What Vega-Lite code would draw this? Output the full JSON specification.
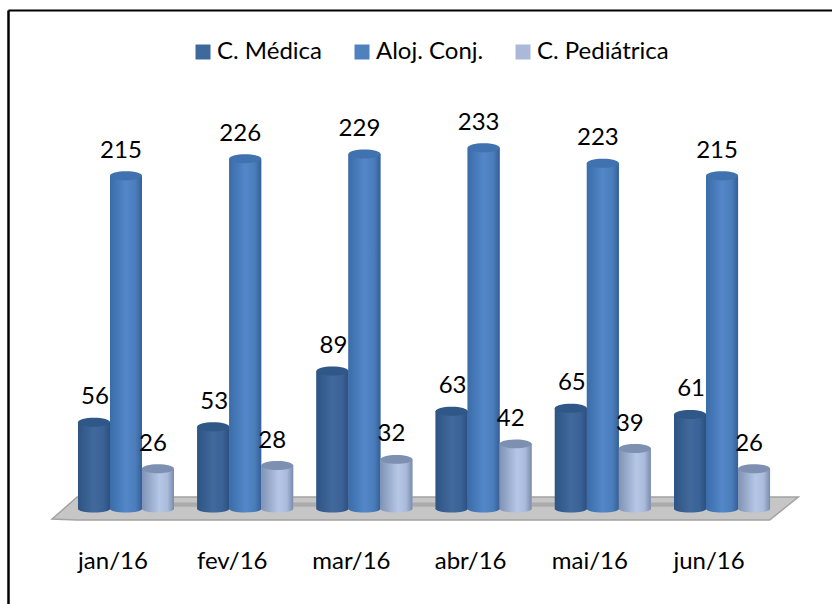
{"$schema":"https://vega.github.io/schema/vega-lite/v6.json","width":824,"height":594,"autosize":{"type":"none"},"padding":{"left":8,"top":10,"right":0,"bottom":0},"background":"white","config":{"view":{"stroke":null},"font":"Lato"},"datasets":{"d":[{"mes":"jan/16","serie":"C. Médica","v":56},{"mes":"jan/16","serie":"Aloj. Conj.","v":215},{"mes":"jan/16","serie":"C. Pediátrica","v":26},{"mes":"fev/16","serie":"C. Médica","v":53},{"mes":"fev/16","serie":"Aloj. Conj.","v":226},{"mes":"fev/16","serie":"C. Pediátrica","v":28},{"mes":"mar/16","serie":"C. Médica","v":89},{"mes":"mar/16","serie":"Aloj. Conj.","v":229},{"mes":"mar/16","serie":"C. Pediátrica","v":32},{"mes":"abr/16","serie":"C. Médica","v":63},{"mes":"abr/16","serie":"Aloj. Conj.","v":233},{"mes":"abr/16","serie":"C. Pediátrica","v":42},{"mes":"mai/16","serie":"C. Médica","v":65},{"mes":"mai/16","serie":"Aloj. Conj.","v":223},{"mes":"mai/16","serie":"C. Pediátrica","v":39},{"mes":"jun/16","serie":"C. Médica","v":61},{"mes":"jun/16","serie":"Aloj. Conj.","v":215},{"mes":"jun/16","serie":"C. Pediátrica","v":26}],"piso":[{"p":-0.12,"a":-6.5,"b":-6.5},{"p":0.09,"a":7.7,"b":-7.1},{"p":5.9,"a":7.7,"b":-7.1},{"p":6.14,"a":7.7,"b":7.7}],"sombra":[{"p":0.15,"a":4.2,"b":1.5},{"p":5.85,"a":4.2,"b":1.5}]},"resolve":{"scale":{"x":"independent"},"axis":{"x":"independent"}},"layer":[{"data":{"name":"piso"},"mark":{"type":"area","fill":"#C6C6C6","stroke":"#A3A3A3","strokeWidth":1.5},"encoding":{"x":{"field":"p","type":"quantitative","scale":{"domain":[-0.4899,6.4228],"nice":false,"zero":false},"axis":{"orient":"top","domain":true,"domainColor":"#000000","domainWidth":2,"ticks":false,"labels":false,"grid":false,"title":null}},"y":{"field":"a","type":"quantitative","scale":{"domain":[-61.3,321.9],"nice":false,"zero":false},"axis":{"orient":"left","domain":true,"domainColor":"#000000","domainWidth":2.5,"ticks":false,"labels":false,"grid":false,"title":null}},"y2":{"field":"b"}}},{"data":{"name":"sombra"},"mark":{"type":"area","fill":"#ABABAB"},"encoding":{"x":{"field":"p","type":"quantitative","scale":{"domain":[-0.4899,6.4228],"nice":false,"zero":false},"axis":null},"y":{"field":"a","type":"quantitative"},"y2":{"field":"b"}}},{"data":{"name":"d"},"transform":[{"calculate":"0","as":"base"}],"encoding":{"x":{"field":"mes","type":"nominal","sort":null,"scale":{"domain":["jan/16","fev/16","mar/16","abr/16","mai/16","jun/16"],"paddingInner":0,"paddingOuter":0.456,"align":0.537},"axis":{"orient":"bottom","domain":false,"ticks":false,"grid":false,"title":null,"labelAngle":0,"labelFontSize":24,"labelFont":"Lato","labelColor":"#000000","labelPadding":-43,"labelBaseline":"middle","labelOffset":-13}},"xOffset":{"field":"serie","type":"nominal","sort":null,"scale":{"domain":["C. Médica","Aloj. Conj.","C. Pediátrica"],"paddingInner":0,"paddingOuter":0.3625}}},"layer":[{"mark":{"type":"bar"},"encoding":{"y":{"field":"v","type":"quantitative"},"color":{"field":"serie","type":"nominal","scale":{"domain":["C. Médica","Aloj. Conj.","C. Pediátrica"],"range":["#3F689C","#4F81BD","#AAB9D8"]},"legend":{"orient":"none","legendX":183,"legendY":30,"direction":"horizontal","title":null,"symbolType":"square","symbolSize":225,"symbolStrokeWidth":0,"labelFontSize":24,"labelFont":"Lato","labelColor":"#000000","labelOffset":2,"columnPadding":27,"padding":0}}}},{"transform":[{"filter":"datum.serie === 'C. Médica'"}],"mark":{"type":"bar","color":{"gradient":"linear","x1":0,"x2":1,"y1":0,"y2":0,"stops":[{"offset":0,"color":"#2E5484"},{"offset":0.5,"color":"#41699C"},{"offset":0.8,"color":"#3A6296"},{"offset":1,"color":"#2C4F7E"}]}},"encoding":{"y":{"field":"v","type":"quantitative"}}},{"transform":[{"filter":"datum.serie === 'Aloj. Conj.'"}],"mark":{"type":"bar","color":{"gradient":"linear","x1":0,"x2":1,"y1":0,"y2":0,"stops":[{"offset":0,"color":"#3A6CA8"},{"offset":0.5,"color":"#5387C9"},{"offset":0.8,"color":"#4B7DBB"},{"offset":1,"color":"#355F97"}]}},"encoding":{"y":{"field":"v","type":"quantitative"}}},{"transform":[{"filter":"datum.serie === 'C. Pediátrica'"}],"mark":{"type":"bar","color":{"gradient":"linear","x1":0,"x2":1,"y1":0,"y2":0,"stops":[{"offset":0,"color":"#8093B4"},{"offset":0.55,"color":"#B6C7E6"},{"offset":0.8,"color":"#A9BADB"},{"offset":1,"color":"#7A8CAC"}]}},"encoding":{"y":{"field":"v","type":"quantitative"}}},{"transform":[{"filter":"datum.serie === 'C. Médica'"}],"mark":{"type":"point","filled":true,"opacity":1,"size":1024,"shape":"M-1,0A1,0.22 0 1,1 1,0A1,0.22 0 1,1 -1,0Z","color":{"gradient":"linear","x1":0,"x2":1,"y1":0,"y2":0,"stops":[{"offset":0,"color":"#2E5484"},{"offset":0.5,"color":"#41699C"},{"offset":0.8,"color":"#3A6296"},{"offset":1,"color":"#2C4F7E"}]}},"encoding":{"y":{"field":"base","type":"quantitative"}}},{"transform":[{"filter":"datum.serie === 'Aloj. Conj.'"}],"mark":{"type":"point","filled":true,"opacity":1,"size":1024,"shape":"M-1,0A1,0.22 0 1,1 1,0A1,0.22 0 1,1 -1,0Z","color":{"gradient":"linear","x1":0,"x2":1,"y1":0,"y2":0,"stops":[{"offset":0,"color":"#3A6CA8"},{"offset":0.5,"color":"#5387C9"},{"offset":0.8,"color":"#4B7DBB"},{"offset":1,"color":"#355F97"}]}},"encoding":{"y":{"field":"base","type":"quantitative"}}},{"transform":[{"filter":"datum.serie === 'C. Pediátrica'"}],"mark":{"type":"point","filled":true,"opacity":1,"size":1024,"shape":"M-1,0A1,0.22 0 1,1 1,0A1,0.22 0 1,1 -1,0Z","color":{"gradient":"linear","x1":0,"x2":1,"y1":0,"y2":0,"stops":[{"offset":0,"color":"#8093B4"},{"offset":0.55,"color":"#B6C7E6"},{"offset":0.8,"color":"#A9BADB"},{"offset":1,"color":"#7A8CAC"}]}},"encoding":{"y":{"field":"base","type":"quantitative"}}},{"mark":{"type":"point","filled":true,"opacity":1,"size":1024,"shape":"M-1,0A1,0.28 0 1,1 1,0A1,0.28 0 1,1 -1,0Z"},"encoding":{"y":{"field":"v","type":"quantitative"},"fill":{"field":"serie","type":"nominal","legend":null,"scale":{"domain":["C. Médica","Aloj. Conj.","C. Pediátrica"],"range":["#2F5788","#3F72AE","#7D90B2"]}}}},{"transform":[{"filter":"datum.serie === 'C. Médica'"}],"mark":{"type":"text","fontSize":24,"font":"Lato","color":"#000000","baseline":"middle","dy":-25,"dx":1},"encoding":{"y":{"field":"v","type":"quantitative"},"text":{"field":"v","type":"quantitative"}}},{"transform":[{"filter":"datum.serie !== 'C. Médica'"}],"mark":{"type":"text","fontSize":24,"font":"Lato","color":"#000000","baseline":"middle","dy":-25,"dx":-5},"encoding":{"y":{"field":"v","type":"quantitative"},"text":{"field":"v","type":"quantitative"}}}]}]}
